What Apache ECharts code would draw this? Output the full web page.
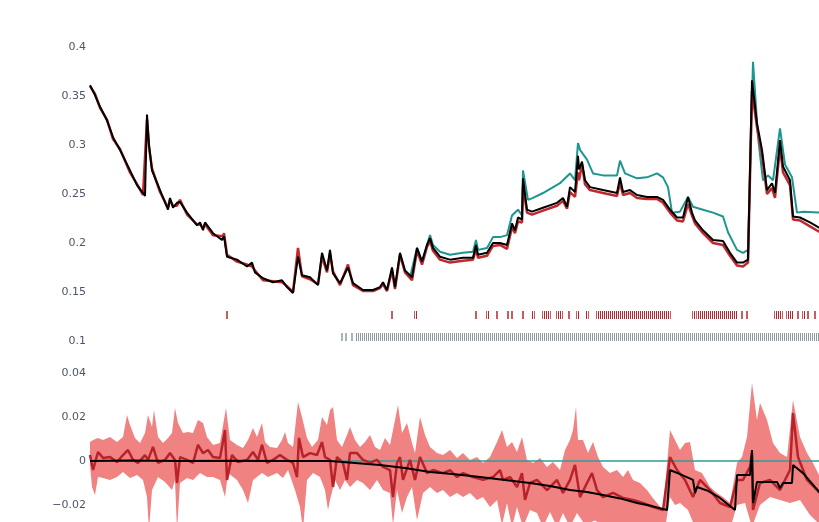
<!DOCTYPE html>
<html>
<head>
<meta charset="utf-8">
<script src="https://cdn.jsdelivr.net/npm/echarts@6/dist/echarts.min.js"></script>
<style>
  html, body { margin: 0; padding: 0; background: #fff; }
  #chart { width: 819px; height: 522px; }
</style>
</head>
<body>
<div id="chart"></div>
<script>
// x = trading day index
var topBlack = [[0,0.361],[5,0.351],[10,0.339],[17,0.325],[23,0.308],[30,0.295],[40,0.274],[47,0.259],[53,0.251],[55,0.248],[57,0.331],[59,0.300],[62,0.274],[70,0.254],[78,0.234],[80,0.246],[83,0.236],[87,0.241],[90,0.242],[97,0.231],[107,0.218],[110,0.221],[113,0.213],[115,0.221],[123,0.210],[132,0.203],[134,0.207],[137,0.186],[147,0.183],[157,0.176],[162,0.180],[165,0.170],[173,0.164],[183,0.160],[192,0.162],[197,0.155],[203,0.149],[208,0.186],[212,0.167],[220,0.165],[228,0.157],[232,0.190],[237,0.172],[240,0.193],[243,0.169],[250,0.159],[258,0.175],[263,0.159],[273,0.152],[283,0.152],[290,0.155],[293,0.160],[297,0.152],[302,0.175],[305,0.155],[310,0.190],[315,0.172],[322,0.165],[327,0.195],[332,0.181],[337,0.198],[340,0.205],[343,0.195],[350,0.186],[360,0.183],[373,0.185],[383,0.185],[386,0.198],[388,0.188],[397,0.190],[403,0.200],[410,0.200],[417,0.198],[422,0.220],[425,0.213],[428,0.226],[432,0.224],[433,0.266],[437,0.234],[442,0.232],[453,0.236],[467,0.241],[473,0.246],[477,0.237],[480,0.257],[485,0.252],[488,0.289],[489,0.275],[492,0.283],[495,0.264],[500,0.257],[513,0.254],[527,0.251],[530,0.267],[533,0.252],[540,0.254],[547,0.249],[557,0.247],[567,0.247],[573,0.244],[580,0.234],[587,0.226],[593,0.226],[598,0.247],[602,0.231],[605,0.223],[613,0.213],[623,0.203],[633,0.202],[640,0.190],[647,0.180],[653,0.180],[658,0.183],[662,0.366],[667,0.322],[672,0.295],[677,0.254],[682,0.261],[685,0.251],[690,0.305],[693,0.278],[700,0.264],[703,0.227],[710,0.226],[720,0.221],[730,0.215]];

var topRed = [[0,0.360],[5,0.352],[10,0.338],[17,0.326],[23,0.306],[30,0.296],[40,0.272],[47,0.260],[53,0.249],[55,0.250],[57,0.326],[59,0.298],[62,0.276],[70,0.252],[78,0.236],[80,0.244],[83,0.238],[87,0.238],[90,0.244],[97,0.229],[107,0.219],[110,0.219],[113,0.215],[115,0.219],[123,0.208],[133,0.207],[134,0.210],[137,0.188],[147,0.181],[157,0.178],[162,0.176],[165,0.172],[173,0.162],[183,0.161],[192,0.160],[197,0.156],[203,0.150],[208,0.195],[212,0.166],[220,0.163],[228,0.158],[232,0.186],[237,0.170],[240,0.189],[243,0.171],[250,0.157],[258,0.178],[263,0.157],[273,0.151],[283,0.151],[290,0.154],[293,0.158],[297,0.151],[302,0.172],[305,0.153],[310,0.188],[315,0.170],[322,0.162],[327,0.192],[332,0.178],[337,0.196],[340,0.202],[343,0.192],[350,0.183],[360,0.180],[373,0.182],[383,0.183],[386,0.194],[388,0.185],[397,0.187],[403,0.197],[410,0.198],[417,0.194],[422,0.216],[425,0.210],[428,0.222],[432,0.221],[433,0.258],[437,0.231],[442,0.229],[453,0.233],[467,0.238],[473,0.243],[477,0.235],[480,0.252],[485,0.247],[488,0.272],[489,0.264],[492,0.280],[495,0.260],[500,0.254],[513,0.251],[527,0.248],[530,0.262],[533,0.249],[540,0.251],[547,0.246],[557,0.245],[567,0.245],[573,0.241],[580,0.231],[587,0.223],[593,0.222],[598,0.240],[602,0.228],[605,0.220],[613,0.210],[623,0.200],[633,0.198],[640,0.187],[647,0.177],[653,0.176],[658,0.180],[662,0.355],[667,0.318],[672,0.290],[677,0.250],[682,0.256],[685,0.246],[690,0.298],[693,0.272],[700,0.259],[703,0.224],[710,0.223],[720,0.217],[730,0.211]];

var topTeal = [[320,0.165],[327,0.195],[332,0.181],[337,0.198],[340,0.208],[343,0.198],[350,0.191],[360,0.188],[373,0.190],[383,0.191],[386,0.203],[388,0.193],[397,0.195],[403,0.206],[410,0.206],[417,0.208],[422,0.228],[428,0.234],[432,0.228],[433,0.274],[438,0.244],[443,0.246],[453,0.251],[470,0.261],[480,0.271],[485,0.264],[488,0.302],[490,0.295],[497,0.285],[503,0.271],[513,0.269],[527,0.269],[530,0.284],[535,0.271],[547,0.266],[557,0.267],[567,0.271],[573,0.267],[578,0.257],[582,0.231],[590,0.232],[598,0.247],[603,0.237],[613,0.234],[623,0.231],[633,0.227],[638,0.211],[647,0.193],[653,0.190],[658,0.193],[663,0.385],[668,0.308],[673,0.264],[678,0.269],[683,0.264],[690,0.317],[695,0.280],[702,0.267],[707,0.231],[713,0.232],[730,0.231]];

// rug marks: [first day, last day]
var rugRed = [[137,137],[302,302],[325,327],[386,386],[397,399],[407,407],[418,418],[422,422],[433,433],[442,444],[453,460],[467,472],[479,479],[487,489],[496,498],[507,580],[603,605],[607,647],[652,652],[657,657],[685,692],[697,703],[708,708],[713,715],[718,718],[725,725]];
var rugGray = [[252,252],[256,256],[262,262],[266,730]];

var bandUpper = [[0,0.0086],[3,0.0095],[8,0.0105],[13,0.0095],[20,0.0109],[27,0.0086],[33,0.0109],[37,0.0209],[40,0.0164],[45,0.0105],[50,0.0082],[55,0.0127],[58,0.0209],[62,0.0155],[64,0.0232],[68,0.0109],[73,0.0082],[78,0.0105],[82,0.0127],[85,0.0241],[88,0.0173],[93,0.0127],[98,0.0132],[103,0.0127],[108,0.0186],[113,0.0173],[117,0.0109],[123,0.0073],[130,0.0082],[136,0.0241],[140,0.0095],[147,0.0073],[153,0.0059],[158,0.0095],[163,0.0150],[167,0.0109],[172,0.0173],[175,0.0086],[180,0.0064],[187,0.0059],[192,0.0095],[195,0.0132],[198,0.0082],[203,0.0064],[208,0.0268],[212,0.0200],[217,0.0105],[222,0.0064],[228,0.0095],[232,0.0200],[237,0.0164],[240,0.0232],[243,0.0245],[247,0.0095],[252,0.0064],[257,0.0118],[260,0.0155],[265,0.0095],[270,0.0064],[275,0.0086],[280,0.0118],[285,0.0064],[290,0.0050],[295,0.0105],[300,0.0073],[305,0.0186],[308,0.0255],[312,0.0127],[317,0.0173],[322,0.0082],[325,0.0036],[330,0.0200],[335,0.0118],[340,0.0064],[347,0.0036],[353,0.0027],[360,0.0050],[367,0.0014],[373,0.0036],[380,0.0005],[387,0.0018],[393,-0.0009],[400,0.0018],[407,0.0086],[412,0.0141],[417,0.0064],[422,0.0086],[427,0.0041],[432,0.0109],[437,0.0005],[443,-0.0009],[450,0.0014],[457,-0.0027],[463,-0.0005],[470,-0.0041],[475,0.0050],[480,0.0095],[483,0.0141],[486,0.0245],[488,0.0095],[493,0.0095],[498,0.0036],[503,0.0086],[508,0.0018],[513,-0.0027],[520,-0.0055],[527,-0.0041],[533,-0.0073],[538,-0.0041],[543,-0.0086],[550,-0.0100],[557,-0.0132],[562,-0.0164],[567,-0.0191],[573,-0.0223],[580,0.0141],[585,0.0095],[590,0.0050],[595,0.0082],[600,0.0086],[605,-0.0041],[612,-0.0055],[620,-0.0118],[627,-0.0145],[633,-0.0164],[640,-0.0191],[647,-0.0009],[652,0.0018],[657,0.0109],[662,0.0355],[667,0.0186],[670,0.0264],[677,0.0186],[683,0.0082],[690,0.0036],[697,0.0018],[703,0.0277],[710,0.0109],[717,0.0036],[723,-0.0009],[730,-0.0073]];

var bandLower = [[0,-0.0018],[2,-0.0118],[5,-0.0155],[8,-0.0073],[13,-0.0077],[20,-0.0086],[27,-0.0073],[33,-0.0050],[40,-0.0077],[47,-0.0064],[53,-0.0086],[57,-0.0164],[59,-0.0314],[62,-0.0132],[68,-0.0073],[75,-0.0095],[82,-0.0132],[85,-0.0086],[87,-0.0314],[90,-0.0100],[97,-0.0077],[103,-0.0086],[110,-0.0055],[117,-0.0073],[123,-0.0073],[130,-0.0086],[135,-0.0164],[138,-0.0055],[147,-0.0086],[153,-0.0132],[158,-0.0191],[163,-0.0086],[172,-0.0055],[178,-0.0073],[187,-0.0055],[193,-0.0077],[198,-0.0041],[205,-0.0132],[210,-0.0209],[213,-0.0314],[217,-0.0086],[223,-0.0055],[230,-0.0073],[235,-0.0132],[238,-0.0223],[240,-0.0177],[245,-0.0086],[250,-0.0132],[255,-0.0086],[260,-0.0118],[267,-0.0086],[273,-0.0100],[280,-0.0132],[287,-0.0086],[293,-0.0132],[300,-0.0145],[303,-0.0291],[307,-0.0132],[312,-0.0236],[317,-0.0164],[322,-0.0118],[327,-0.0268],[333,-0.0145],[340,-0.0118],[347,-0.0145],[353,-0.0132],[360,-0.0164],[367,-0.0145],[373,-0.0164],[380,-0.0145],[387,-0.0177],[393,-0.0164],[400,-0.0209],[407,-0.0177],[412,-0.0291],[417,-0.0191],[422,-0.0300],[427,-0.0209],[433,-0.0300],[440,-0.0223],[447,-0.0236],[453,-0.0300],[460,-0.0232],[467,-0.0300],[473,-0.0236],[480,-0.0300],[487,-0.0236],[495,-0.0290],[505,-0.0270],[515,-0.0300],[530,-0.0310],[545,-0.0310],[560,-0.0310],[575,-0.0310],[580,-0.0164],[585,-0.0200],[590,-0.0191],[598,-0.0223],[605,-0.0300],[620,-0.0310],[640,-0.0310],[647,-0.0200],[655,-0.0191],[662,-0.0300],[670,-0.0200],[680,-0.0164],[690,-0.0177],[700,-0.0191],[710,-0.0177],[720,-0.0245],[730,-0.0290]];

var midRed = [[0,0.0027],[3,-0.0041],[8,0.0041],[13,0.0014],[20,0.0018],[27,-0.0005],[33,0.0027],[38,0.0050],[43,0.0005],[48,-0.0009],[55,0.0027],[58,0.0005],[63,0.0064],[68,-0.0009],[75,0.0005],[80,0.0036],[85,0.0005],[87,-0.0100],[90,0.0018],[97,0.0005],[103,-0.0009],[108,0.0073],[113,0.0036],[118,0.0050],[123,0.0018],[130,0.0014],[135,0.0141],[137,-0.0086],[142,0.0027],[148,-0.0005],[157,0.0005],[163,0.0041],[168,0.0005],[172,0.0073],[177,-0.0009],[183,0.0005],[190,0.0027],[197,0.0005],[203,-0.0009],[207,-0.0073],[209,0.0105],[213,0.0018],[220,0.0036],[227,0.0027],[232,0.0086],[235,0.0018],[240,0.0005],[243,-0.0118],[247,0.0018],[253,-0.0009],[257,-0.0086],[260,0.0036],[267,0.0036],[273,0.0005],[280,-0.0009],[287,0.0005],[293,-0.0027],[300,-0.0041],[303,-0.0164],[307,-0.0009],[310,0.0018],[313,-0.0086],[320,0.0005],[325,-0.0086],[330,0.0018],[337,-0.0055],[343,-0.0041],[353,-0.0055],[360,-0.0041],[367,-0.0073],[373,-0.0055],[383,-0.0073],[393,-0.0086],[403,-0.0073],[410,-0.0041],[413,-0.0086],[420,-0.0073],[427,-0.0118],[432,-0.0055],[435,-0.0177],[440,-0.0100],[447,-0.0086],[457,-0.0132],[467,-0.0086],[473,-0.0145],[480,-0.0086],[485,-0.0018],[490,-0.0164],[497,-0.0100],[502,-0.0055],[507,-0.0132],[513,-0.0164],[523,-0.0145],[533,-0.0168],[543,-0.0177],[553,-0.0191],[563,-0.0209],[573,-0.0223],[580,0.0018],[587,-0.0041],[595,-0.0086],[603,-0.0164],[610,-0.0086],[620,-0.0132],[630,-0.0191],[640,-0.0209],[647,-0.0086],[653,-0.0086],[660,-0.0027],[662,0.0036],[663,-0.0223],[670,-0.0100],[680,-0.0086],[690,-0.0132],[700,-0.0041],[703,0.0218],[708,0.0018],[717,-0.0086],[730,-0.0145]];

var midBlack = [[0,0],[40,0.0002],[90,0],[140,0.0001],[200,0],[240,0],[265,-0.0009],[290,-0.0018],[315,-0.0032],[340,-0.0050],[365,-0.0060],[390,-0.0073],[415,-0.0086],[440,-0.0100],[460,-0.0114],[480,-0.0132],[497,-0.0141],[513,-0.0155],[530,-0.0170],[547,-0.0191],[562,-0.0205],[577,-0.0223],[580,-0.0041],[590,-0.0060],[603,-0.0086],[605,-0.0145],[607,-0.0118],[618,-0.0136],[630,-0.0168],[645,-0.0223],[647,-0.0064],[660,-0.0064],[662,0.0050],[663,-0.0191],[667,-0.0095],[687,-0.0095],[690,-0.0123],[693,-0.0100],[702,-0.0100],[703,-0.0018],[713,-0.0055],[730,-0.0145]];

var zeroLine = [[0,0],[730,0]];

var RUG_RED_Y = 0.1265, RUG_GRAY_Y = 0.104;

function stripes(color) {
  var c = document.createElement('canvas');
  c.width = 2; c.height = 1;
  var g = c.getContext('2d');
  g.fillStyle = color;
  g.fillRect(0, 0, 1, 1);
  return { image: c, repeat: 'repeat' };
}

function rugRender(yVal, color) {
  var pat = stripes(color);
  return function (params, api) {
    var a = api.coord([api.value(0), yVal]);
    var b = api.coord([api.value(1), yVal]);
    var w = b[0] - a[0] + 1.5;
    return {
      type: 'rect',
      shape: { x: a[0] - 0.75, y: a[1] - 4, width: w, height: 8 },
      style: { fill: w > 3 ? pat : color }
    };
  };
}

var labelStyle = { color: '#4c566a', fontSize: 11, fontFamily: 'DejaVu Sans', margin: 4 };

var myChart = echarts.init(document.getElementById('chart'));
var option = {
  animation: false,
  grid: [
    { left: 90, right: -1, top: 47, height: 294, outerBoundsMode: 'none' },
    { left: 90, right: -1, top: 373, height: 176, outerBoundsMode: 'none' }
  ],
  xAxis: [
    { type: 'value', gridIndex: 0, min: 0, max: 730, show: false },
    { type: 'value', gridIndex: 1, min: 0, max: 730, show: false }
  ],
  yAxis: [
    { type: 'value', gridIndex: 0, min: 0.1, max: 0.4, interval: 0.05,
      axisLine: { show: false }, axisTick: { show: false }, splitLine: { show: false },
      axisLabel: labelStyle },
    { type: 'value', gridIndex: 1, min: -0.04, max: 0.04, interval: 0.02,
      axisLine: { show: false }, axisTick: { show: false }, splitLine: { show: false },
      axisLabel: Object.assign({}, labelStyle, {
        formatter: function (v) { return v === 0 ? '0' : String(+v.toFixed(2)).replace('-', '\u2212'); }
      }) }
  ],
  series: [
    { type: 'line', name: 'teal', xAxisIndex: 0, yAxisIndex: 0, data: topTeal, showSymbol: false,
      lineStyle: { color: '#1f9590', width: 2 }, z: 2 },
    { type: 'line', name: 'red', xAxisIndex: 0, yAxisIndex: 0, data: topRed, showSymbol: false,
      lineStyle: { color: '#c0282d', width: 2.5 }, z: 3 },
    { type: 'line', name: 'black', xAxisIndex: 0, yAxisIndex: 0, data: topBlack, showSymbol: false,
      lineStyle: { color: '#000', width: 2 }, z: 4 },
    { type: 'custom', name: 'rugRed', xAxisIndex: 0, yAxisIndex: 0, data: rugRed,
      renderItem: rugRender(RUG_RED_Y, '#b0282d'), z: 2 },
    { type: 'custom', name: 'rugGray', xAxisIndex: 0, yAxisIndex: 0, data: rugGray,
      renderItem: rugRender(RUG_GRAY_Y, '#8e9a9e'), z: 2 },
    { type: 'custom', name: 'band', xAxisIndex: 1, yAxisIndex: 1, data: [[0, 0]],
      renderItem: function (params, api) {
        var pts = bandUpper.map(function (p) { return api.coord(p); })
          .concat(bandLower.slice().reverse().map(function (p) { return api.coord(p); }));
        return { type: 'polygon', shape: { points: pts }, style: { fill: '#f08282' } };
      }, z: 1 },
    { type: 'line', name: 'zero', xAxisIndex: 1, yAxisIndex: 1, data: zeroLine, showSymbol: false,
      lineStyle: { color: '#2c9c98', width: 1.5 }, z: 2 },
    { type: 'line', name: 'midRed', xAxisIndex: 1, yAxisIndex: 1, data: midRed, showSymbol: false,
      lineStyle: { color: '#b8232a', width: 2.5 }, z: 3 },
    { type: 'line', name: 'midBlack', xAxisIndex: 1, yAxisIndex: 1, data: midBlack, showSymbol: false,
      lineStyle: { color: '#000', width: 2 }, z: 4 }
  ]
};
myChart.setOption(option);
</script>
</body>
</html>
